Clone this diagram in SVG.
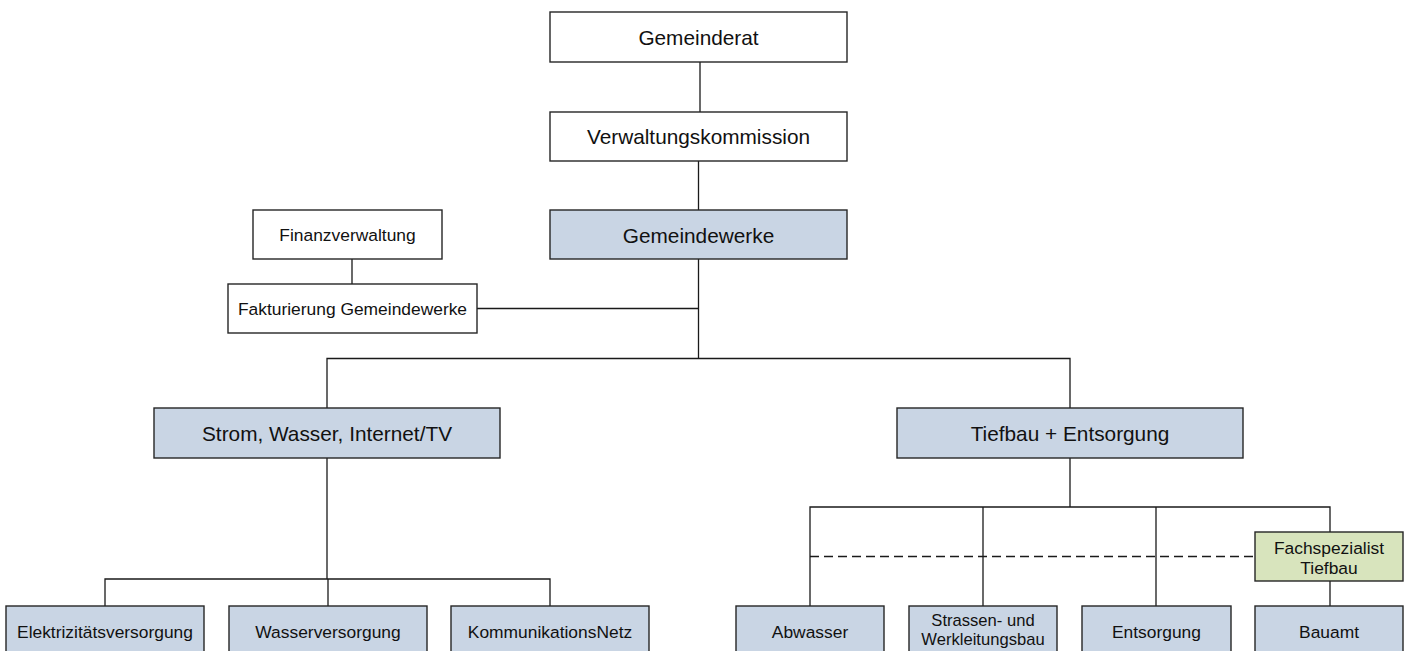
<svg xmlns="http://www.w3.org/2000/svg" width="1411" height="651" viewBox="0 0 1411 651">
<style>
.box{stroke:#262626;stroke-width:1.4}
.w{fill:#ffffff}
.b{fill:#c9d5e4}
.g{fill:#d8e4bd}
.t{font-family:"Liberation Sans",Arial,sans-serif;fill:#111;text-anchor:middle}
.L{font-size:20.8px}
.S{font-size:17.4px}
.c{stroke:#1a1a1a;stroke-width:1.3;fill:none}
.d{stroke:#1a1a1a;stroke-width:1.3;fill:none;stroke-dasharray:9 5}
</style>
<rect width="1411" height="651" fill="#ffffff"/>
<g id="connectors">
<path class="c" d="M700 62V112"/>
<path class="c" d="M698.5 161V210"/>
<path class="c" d="M698.5 259V358.5"/>
<path class="c" d="M477 308.5H698.5"/>
<path class="c" d="M352 259V284"/>
<path class="c" d="M327 408V358.5H1070V408"/>
<path class="c" d="M327 458V579"/>
<path class="c" d="M105 606V579H550V606"/>
<path class="c" d="M328 579V606"/>
<path class="c" d="M1070 458V507"/>
<path class="c" d="M810 606V507H1330V532"/>
<path class="c" d="M983 507V606"/>
<path class="c" d="M1156 507V606"/>
<path class="c" d="M1330 581V606"/>
<path class="d" d="M810 556.5H1255"/>
</g>
<g id="gemeinderat"><rect class="box w" x="550" y="12" width="297" height="50"/><text class="t L" x="698.5" y="45">Gemeinderat</text></g>
<g id="verwaltungskommission"><rect class="box w" x="550" y="112" width="297" height="49"/><text class="t L" x="698.5" y="144">Verwaltungskommission</text></g>
<g id="gemeindewerke"><rect class="box b" x="550" y="210" width="297" height="49"/><text class="t L" x="698.5" y="243">Gemeindewerke</text></g>
<g id="finanzverwaltung"><rect class="box w" x="253" y="210" width="189" height="49"/><text class="t S" x="347.5" y="241">Finanzverwaltung</text></g>
<g id="fakturierung"><rect class="box w" x="228" y="284" width="249" height="49"/><text class="t S" x="352.5" y="315">Fakturierung Gemeindewerke</text></g>
<g id="strom"><rect class="box b" x="154" y="408" width="346" height="50"/><text class="t L" x="327" y="441">Strom, Wasser, Internet/TV</text></g>
<g id="tiefbau"><rect class="box b" x="897" y="408" width="346" height="50"/><text class="t L" x="1070" y="441">Tiefbau + Entsorgung</text></g>
<g id="elektrizitaet"><rect class="box b" x="6" y="606" width="198" height="50"/><text class="t S" x="105" y="638">Elektrizitätsversorgung</text></g>
<g id="wasser"><rect class="box b" x="229" y="606" width="198" height="50"/><text class="t S" x="328" y="638">Wasserversorgung</text></g>
<g id="kommunikation"><rect class="box b" x="451" y="606" width="198" height="50"/><text class="t S" x="550" y="638">KommunikationsNetz</text></g>
<g id="abwasser"><rect class="box b" x="736" y="606" width="148" height="50"/><text class="t S" x="810" y="638">Abwasser</text></g>
<g id="strassen"><rect class="box b" x="909" y="606" width="148" height="50"/><text class="t" style="font-size:16.6px" x="983" y="626">Strassen- und</text><text class="t" style="font-size:16.6px" x="983" y="644.5">Werkleitungsbau</text></g>
<g id="entsorgung"><rect class="box b" x="1082" y="606" width="149" height="50"/><text class="t S" x="1156.5" y="638">Entsorgung</text></g>
<g id="bauamt"><rect class="box b" x="1255" y="606" width="148" height="50"/><text class="t S" x="1329" y="638">Bauamt</text></g>
<g id="fachspezialist"><rect class="box g" x="1255" y="532" width="148" height="49"/><text class="t S" x="1329" y="554">Fachspezialist</text><text class="t S" x="1329" y="574">Tiefbau</text></g>
</svg>
